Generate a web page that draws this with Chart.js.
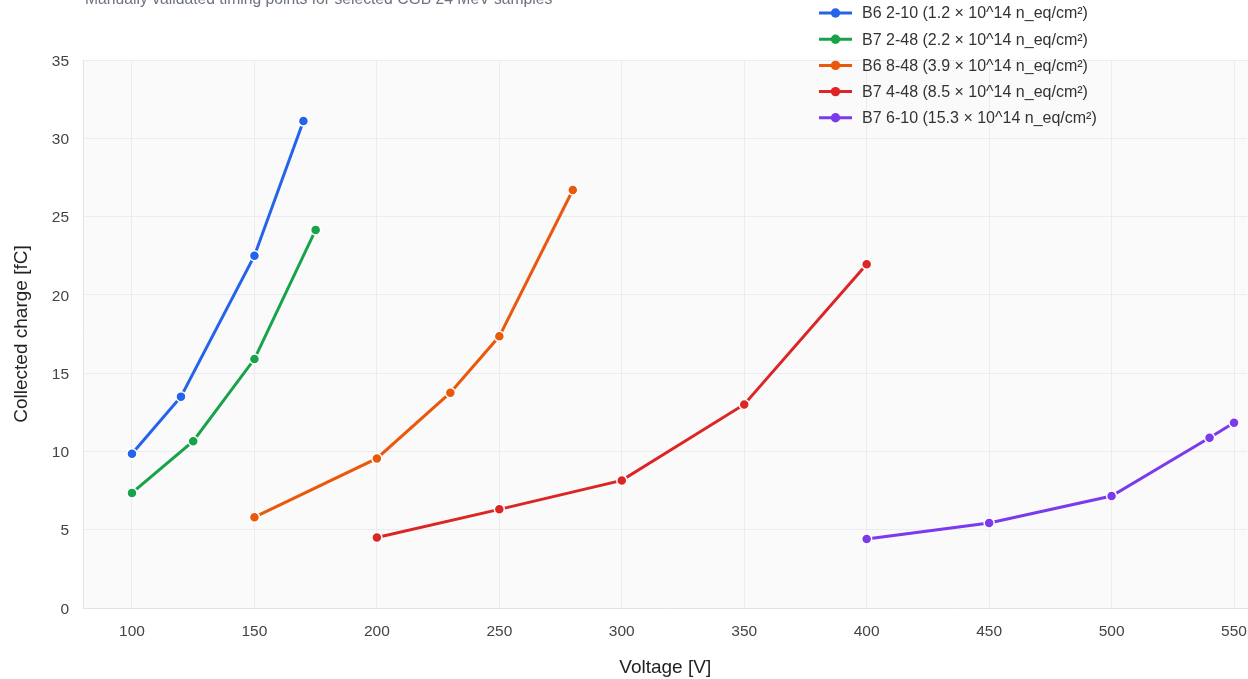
<!DOCTYPE html>
<html>
<head>
<meta charset="utf-8">
<title>Collected charge vs voltage</title>
<script src="https://cdn.jsdelivr.net/npm/chart.js@4.4.1/dist/chart.umd.min.js"></script>
<style>
  html, body { margin: 0; padding: 0; background: #ffffff; overflow: hidden; width: 1248px; height: 679px; }
  /* the canvas is a few pixels wider than the page so the plot runs to the right edge */
  #wrap { position: relative; width: 1255px; height: 679px; }
</style>
</head>
<body>
<div id="wrap"><canvas id="chart"></canvas></div>
<script>
// Sample labels (fluence in 10^14 n_eq/cm²)
const seriesLabels = [
  'B6 2-10 (1.2 × 10^14 n_eq/cm²)',
  'B7 2-48 (2.2 × 10^14 n_eq/cm²)',
  'B6 8-48 (3.9 × 10^14 n_eq/cm²)',
  'B7 4-48 (8.5 × 10^14 n_eq/cm²)',
  'B7 6-10 (15.3 × 10^14 n_eq/cm²)'
];
const seriesColors = ['#2563eb', '#16a34a', '#ea580c', '#dc2626', '#7c3aed'];

// Bias voltage [V] and collected charge [fC] per sample
const b6_2_10_voltage = [100, 120, 150, 170];
const b6_2_10_charge  = [9.85, 13.5, 22.5, 31.1];

const b7_2_48_voltage = [100, 125, 150, 175];
const b7_2_48_charge  = [7.35, 10.65, 15.9, 24.15];

const b6_8_48_voltage = [150, 200, 230, 250, 280];
const b6_8_48_charge  = [5.8, 9.55, 13.75, 17.35, 26.7];

const b7_4_48_voltage = [200, 250, 300, 350, 400];
const b7_4_48_charge  = [4.5, 6.3, 8.15, 13.0, 21.95];

const b7_6_10_voltage = [400, 450, 500, 540, 550];
const b7_6_10_charge  = [4.4, 5.43, 7.15, 10.87, 11.83];

const xTicks = [100, 150, 200, 250, 300, 350, 400, 450, 500, 550];
const yTicks = [0, 5, 10, 15, 20, 25, 30, 35];

const subtitleText = 'Manually validated timing points for selected CGB 24 MeV samples';
const xTitle = 'Voltage [V]';
const yTitle = 'Collected charge [fC]';

const FONT = '"Liberation Sans", Arial, Helvetica, sans-serif';
Chart.defaults.font.family = FONT;

const voltages = [b6_2_10_voltage, b7_2_48_voltage, b6_8_48_voltage, b7_4_48_voltage, b7_6_10_voltage];
const charges  = [b6_2_10_charge, b7_2_48_charge, b6_8_48_charge, b7_4_48_charge, b7_6_10_charge];

const datasets = seriesLabels.map((label, i) => ({
  label,
  data: voltages[i].map((v, k) => ({ x: v, y: charges[i][k] })),
  borderColor: seriesColors[i],
  backgroundColor: seriesColors[i],
  borderWidth: 3,
  pointRadius: 5,
  pointHoverRadius: 6,
  pointBackgroundColor: seriesColors[i],
  pointBorderColor: '#ffffff',
  pointBorderWidth: 1.5,
  tension: 0,
  fill: false
}));

// Light plot-area background
const plotBackground = {
  id: 'plotBackground',
  beforeDraw(chart) {
    const { ctx, chartArea: a } = chart;
    ctx.save();
    ctx.fillStyle = '#fafafa';
    ctx.fillRect(a.left, a.top, a.right - a.left, a.bottom - a.top);
    ctx.restore();
  }
};

// Subtitle above the plot, left-aligned with the plot area
const subtitleLine = {
  id: 'subtitleLine',
  afterDraw(chart) {
    const { ctx, chartArea: a } = chart;
    ctx.save();
    ctx.font = '15.7px ' + FONT;
    ctx.fillStyle = '#6b7280';
    ctx.textAlign = 'left';
    ctx.textBaseline = 'alphabetic';
    ctx.fillText(subtitleText, a.left + 2, 4);
    ctx.restore();
  }
};

// Vertical legend in the upper-right corner with line + marker swatches
const cornerLegend = {
  id: 'cornerLegend',
  afterDraw(chart) {
    const { ctx, chartArea: a } = chart;
    const x0 = a.right - 428.5;
    const swatch = 33;
    ctx.save();
    ctx.font = '16px ' + FONT;
    ctx.textAlign = 'left';
    ctx.textBaseline = 'middle';
    chart.data.datasets.forEach((ds, i) => {
      const y = 13 + i * 26.2;
      ctx.strokeStyle = ds.borderColor;
      ctx.lineWidth = 3;
      ctx.beginPath();
      ctx.moveTo(x0, y);
      ctx.lineTo(x0 + swatch, y);
      ctx.stroke();
      ctx.fillStyle = ds.borderColor;
      ctx.beginPath();
      ctx.arc(x0 + swatch / 2, y, 4.7, 0, Math.PI * 2);
      ctx.fill();
      ctx.fillStyle = '#333333';
      ctx.fillText(ds.label, x0 + swatch + 10, y + 1);
    });
    ctx.restore();
  }
};

new Chart(document.getElementById('chart'), {
  type: 'line',
  data: { datasets },
  options: {
    responsive: true,
    maintainAspectRatio: false,
    animation: false,
    layout: { padding: { top: 60, right: 0, bottom: 0, left: 0 } },
    plugins: {
      legend: { display: false },
      title: { display: false },
      tooltip: { enabled: true }
    },
    scales: {
      x: {
        type: 'linear',
        min: 80,
        max: 555.5,
        afterBuildTicks: (scale) => { scale.ticks = xTicks.map(v => ({ value: v })); },
        afterFit: (scale) => { scale.height = 71; scale.paddingLeft = 0; scale.paddingRight = 0; },
        grid: { color: '#ececf0', lineWidth: 1, drawTicks: false },
        border: { color: '#e2e2e8', width: 1 },
        ticks: { color: '#444444', font: { size: 15.5 }, padding: 14, maxRotation: 0 },
        title: { display: true, text: xTitle, color: '#222222', font: { size: 19 }, padding: { top: 0, bottom: 0 } }
      },
      y: {
        type: 'linear',
        min: 0,
        max: 35,
        afterBuildTicks: (scale) => { scale.ticks = yTicks.map(v => ({ value: v })); },
        afterFit: (scale) => { scale.width = 83; scale.paddingTop = 0; scale.paddingBottom = 0; },
        grid: { color: '#ececf0', lineWidth: 1, drawTicks: false },
        border: { color: '#e2e2e8', width: 1 },
        ticks: { color: '#444444', font: { size: 15.5 }, padding: 14, labelOffset: 1.5 },
        title: { display: true, text: yTitle, color: '#222222', font: { size: 19 }, padding: { top: 10, bottom: 0 } }
      }
    }
  },
  plugins: [plotBackground, subtitleLine, cornerLegend]
});
</script>
</body>
</html>
